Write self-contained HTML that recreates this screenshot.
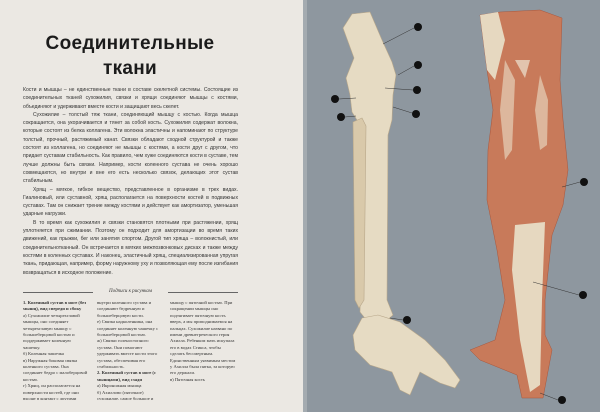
<!DOCTYPE html>
<html><head><meta charset="utf-8"><style>
*{margin:0;padding:0}
body{width:600px;height:412px;overflow:hidden;position:relative;background:#8e979f;font-family:"Liberation Sans",sans-serif}
#left{position:absolute;left:0;top:0;width:303px;height:412px;background:#ebe8e3}
#strip{position:absolute;left:303px;top:0;width:4px;height:412px;background:#a4abb0}
h1{position:absolute;left:0;width:260px;text-align:center;font-family:"Liberation Sans",sans-serif;font-weight:bold;font-size:19px;color:#1b1b1b;letter-spacing:0.3px}
#body{position:absolute;left:23px;top:86px;width:215px;font-size:5.1px;line-height:8.3px;color:#333;text-align:justify;height:193px;overflow:hidden}
#body p{text-indent:10px}
#body p:first-child{text-indent:0}
#cap{position:absolute;left:23px;top:289px;width:215px;font-size:5px;color:#333;text-align:center;font-style:italic;font-family:"Liberation Serif",serif}
.rule{position:absolute;top:292px;height:0;border-top:0.6px solid #666;width:70px}
.col{position:absolute;top:300px;width:66px;font-family:"Liberation Serif",serif;font-size:4.6px;line-height:6.4px;color:#333;height:100px;overflow:hidden}
</style></head><body>
<div id="left"></div><div id="strip"></div>
<h1 style="top:33px">Соединительные</h1>
<h1 style="top:58px">ткани</h1>
<div id="body"><p>Кости и мышцы – не единственные ткани в составе скелетной системы. Состоящие из соединительных тканей сухожилия, связки и хрящи соединяют мышцы с костями, объединяют и удерживают вместе кости и защищают весь скелет.</p><p>Сухожилие – толстый тяж ткани, соединяющий мышцу с костью. Когда мышца сокращается, она укорачивается и тянет за собой кость. Сухожилия содержат волокна, которые состоят из белка коллагена. Эти волокна эластичны и напоминают по структуре толстый, прочный, растяжимый канат. Связки обладают сходной структурой и также состоят из коллагена, но соединяют не мышцы с костями, а кости друг с другом, что придает суставам стабильность. Как правило, чем хуже соединяются кости в суставе, тем лучше должны быть связки. Например, кости коленного сустава не очень хорошо совмещаются, но внутри и вне его есть несколько связок, делающих этот сустав стабильным.</p><p>Хрящ – мягкое, гибкое вещество, представленное в организме в трех видах. Гиалиновый, или суставной, хрящ располагается на поверхности костей в подвижных суставах. Там он снижает трение между костями и действует как амортизатор, уменьшая ударные нагрузки.</p><p>В то время как сухожилия и связки становятся плотными при растяжении, хрящ уплотняется при сжимании. Поэтому он подходит для амортизации во время таких движений, как прыжки, бег или занятия спортом. Другой тип хряща – волокнистый, или соединительнотканный. Он встречается в мягких межпозвонковых дисках и также между костями в коленных суставах. И наконец, эластичный хрящ, специализированная упругая ткань, придающая, например, форму наружному уху и позволяющая ему после изгибания возвращаться в исходное положение.</p></div>
<div class="rule" style="left:23px"></div><div class="rule" style="left:168px"></div>
<div id="cap">Подписи к рисункам</div>
<div class="col" style="left:23px"><b>1. Коленный сустав в ноге (без мышц), вид спереди и сбоку</b><br>а) Сухожилие четырехглавой мышцы, оно соединяет четырехглавую мышцу с большеберцовой костью и поддерживает коленную чашечку.<br>б) Коленная чашечка<br>в) Наружная боковая связка коленного сустава. Она соединяет бедро с малоберцовой костью.<br>г) Хрящ, он располагается на поверхности костей, где они входят в контакт с другими костями.<br>д) Передняя и задняя крестовидные связки.</div>
<div class="col" style="left:97px">внутри коленного сустава и соединяют бедренную и большеберцовую кости.<br>е) Связка надколенника, она соединяет коленную чашечку с большеберцовой костью.<br>ж) Связки голеностопного сустава. Они помогают удерживать вместе кости этого сустава, обеспечивая его стабильность.<br><b>2. Коленный сустав в ноге (с мышцами), вид сзади</b><br>а) Икроножная мышца<br>б) Ахиллово (пяточное) сухожилие, самое большое и сильное сухожилие в теле.</div>
<div class="col" style="left:170px">мышцу с пяточной костью. При сокращении мышцы оно подтягивает пяточную кость вверх, а мы приподнимаемся на пальцах. Сухожилие названо по имени древнегреческого героя Ахилла. Ребенком мать искупала его в водах Стикса, чтобы сделать бессмертным. Единственным уязвимым местом у Ахилла была пятка, за которую его держали.<br>в) Пяточная кость</div>
<svg width="600" height="412" style="position:absolute;left:0;top:0">
<g fill="#e6dbc3" stroke="#b8a78a" stroke-width="0.6">
<path d="M343,28 L352,14 L370,12 L382,40 L392,62 L396,75 L393,95 L392,120 L388,135 L387,300 L393,315 L385,322 L368,322 L360,312 L362,180 L360,125 L352,112 L350,95 L346,78 L354,58 Z"/>
<path d="M362,318 L378,315 L400,322 L425,340 L445,360 L460,380 L455,388 L440,383 L420,372 L410,395 L400,390 L392,372 L370,365 L355,350 L353,335 Z"/>
<path d="M353,122 L362,118 L366,126 L364,300 L359,308 L355,300 Z" fill="#d9c9aa"/>
</g>
<g fill="#c87a5a" stroke="#a8563c" stroke-width="0.5">
<path d="M480,15 L500,12 L540,10 L562,18 L560,80 L563,120 L568,170 L563,205 L552,235 L545,300 L545,335 L552,350 L543,398 L522,398 L517,375 L480,360 L470,350 L495,340 L505,300 L497,250 L487,200 L488,150 L493,110 L487,70 Z"/>
</g>
<path d="M515,225 L545,222 L542,300 L540,385 L530,392 L520,340 L512,270 Z" fill="#e6d8c0"/>
<path d="M480,15 L498,12 L505,40 L495,80 L487,70 Z" fill="#e6d8c0"/>
<path d="M505,60 L515,80 L512,150 L505,160 L500,110 Z" fill="#e2c7ae" opacity=".8"/>
<path d="M540,75 L548,100 L547,145 L540,150 L535,110 Z" fill="#e2c7ae" opacity=".8"/>
<path d="M515,60 L530,60 L525,78 Z" fill="#e8d7c3" opacity=".8"/>
<g fill="#111">
<circle cx="418" cy="27" r="4"/><circle cx="418" cy="65" r="4"/><circle cx="417" cy="90" r="4"/><circle cx="335" cy="99" r="4"/><circle cx="341" cy="117" r="4"/><circle cx="416" cy="114" r="4"/><circle cx="407" cy="320" r="4"/><circle cx="584" cy="182" r="4"/><circle cx="583" cy="295" r="4"/><circle cx="562" cy="400" r="4"/>
</g>
<g stroke="#333" stroke-width="0.5">
<line x1="414" y1="28" x2="383" y2="44"/><line x1="414" y1="66" x2="398" y2="75"/><line x1="413" y1="90" x2="385" y2="88"/><line x1="339" y1="99" x2="356" y2="98"/><line x1="345" y1="117" x2="356" y2="116"/><line x1="412" y1="113" x2="393" y2="107"/><line x1="403" y1="320" x2="390" y2="318"/><line x1="580" y1="182" x2="562" y2="187"/><line x1="579" y1="295" x2="533" y2="282"/><line x1="558" y1="400" x2="540" y2="393"/>
</g>
</svg>
</body></html>
